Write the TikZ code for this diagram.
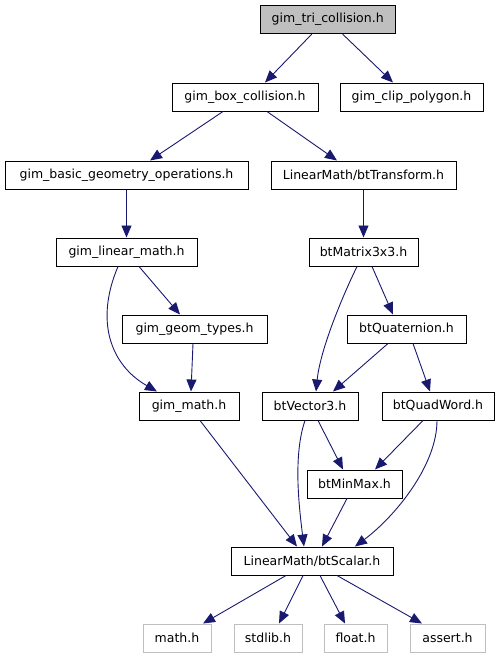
\documentclass[tikz,border=0pt]{standalone}
\usepackage{fontspec}
\setmainfont{DejaVu Sans}
\usetikzlibrary{arrows.meta}
\definecolor{edgeblue}{HTML}{191970}
\definecolor{sysgray}{HTML}{BFBFBF}
\tikzset{
  hdr/.style={draw=black, line width=1pt, fill=white, inner sep=0pt, minimum height=28pt, font=\fontsize{12.5pt}{14pt}\selectfont},
  curr/.style={hdr, fill=sysgray},
  sys/.style={hdr, draw=sysgray},
  dep/.style={draw=edgeblue, line width=0.9pt, -{Triangle[length=12pt,width=10pt]}},
}
\begin{document}
\begin{tikzpicture}[x=1pt,y=-1pt]
\useasboundingbox (0,0) rectangle (500,659);
\node[curr, minimum width=135pt] (tri) at (327.7,19.7) {gim\_tri\_collision.h};
\node[hdr, minimum width=146pt] (box) at (245,97) {gim\_box\_collision.h};
\node[hdr, minimum width=143pt] (clip) at (411.5,97) {gim\_clip\_polygon.h};
\node[hdr, minimum width=243pt] (basic) at (126.5,175) {gim\_basic\_geometry\_operations.h};
\node[hdr, minimum width=185pt] (trans) at (363.5,175) {LinearMath/btTransform.h};
\node[hdr, minimum width=141pt] (lin) at (126.5,252) {gim\_linear\_math.h};
\node[hdr, minimum width=109pt] (mat) at (363.5,252) {btMatrix3x3.h};
\node[hdr, minimum width=145pt] (geom) at (194.5,329) {gim\_geom\_types.h};
\node[hdr, minimum width=119pt] (quat) at (406.5,329) {btQuaternion.h};
\node[hdr, minimum width=100pt] (gmath) at (189,406) {gim\_math.h};
\node[hdr, minimum width=96pt] (vec) at (310,406) {btVector3.h};
\node[hdr, minimum width=112pt] (quad) at (438,406) {btQuadWord.h};
\node[hdr, minimum width=95pt] (minmax) at (354.5,484) {btMinMax.h};
\node[hdr, minimum width=162pt] (scal) at (312,561) {LinearMath/btScalar.h};
\node[sys, minimum width=68pt] (mathh) at (177,638) {math.h};
\node[sys, minimum width=68pt] (stdlib) at (268,638) {stdlib.h};
\node[sys, minimum width=63pt] (floath) at (355.5,638) {float.h};
\node[sys, minimum width=75pt] (asserth) at (447.5,638) {assert.h};

\draw[dep] ([xshift=-16pt]tri.south) -- ([xshift=20pt]box.north);
\draw[dep] ([xshift=15pt]tri.south) -- ([xshift=-18.5pt]clip.north);
\draw[dep] ([xshift=-22pt]box.south) -- ([xshift=23.5pt]basic.north);
\draw[dep] ([xshift=22pt]box.south) -- ([xshift=-26.5pt]trans.north);
\draw[dep] (basic.south) -- (lin.north);
\draw[dep] (trans.south) -- (mat.north);
\draw[dep] ([xshift=12.5pt]lin.south) -- ([xshift=-14.5pt]geom.north);
\draw[dep] ([xshift=-8.5pt]lin.south) .. controls +(-23,54) and +(-47,-27) .. ([xshift=-32pt]gmath.north);
\draw[dep] ([xshift=-1.5pt]geom.south) -- ([xshift=2pt]gmath.north);
\draw[dep] ([xshift=-6.5pt]mat.south) .. controls +(-17,35) and +(4,-40) .. ([xshift=6pt]vec.north);
\draw[dep] ([xshift=8.5pt]mat.south) -- ([xshift=-13.5pt]quat.north);
\draw[dep] ([xshift=-18.5pt]quat.south) -- ([xshift=23pt]vec.north);
\draw[dep] ([xshift=6.5pt]quat.south) -- ([xshift=-8pt]quad.north);
\draw[dep] ([xshift=11pt]gmath.south) -- ([xshift=-15pt]scal.north);
\draw[dep] ([xshift=-5pt]vec.south) .. controls +(-12,35) and +(-5,-40) .. ([xshift=-8pt]scal.north);
\draw[dep] ([xshift=8pt]vec.south) -- ([xshift=-11.5pt]minmax.north);
\draw[dep] ([xshift=-15pt]quad.south) -- ([xshift=20.5pt]minmax.north);
\draw[dep] ([xshift=-1pt]quad.south) .. controls +(0,45) and +(40,-30) .. ([xshift=43pt]scal.north);
\draw[dep] ([xshift=-7.5pt]minmax.south) -- ([xshift=10pt]scal.north);
\draw[dep] ([xshift=-26pt]scal.south) -- ([xshift=26pt]mathh.north);
\draw[dep] ([xshift=-9pt]scal.south) -- ([xshift=11pt]stdlib.north);
\draw[dep] ([xshift=8pt]scal.south) -- ([xshift=-10.5pt]floath.north);
\draw[dep] ([xshift=25pt]scal.south) -- ([xshift=-25.5pt]asserth.north);
\end{tikzpicture}
\end{document}
